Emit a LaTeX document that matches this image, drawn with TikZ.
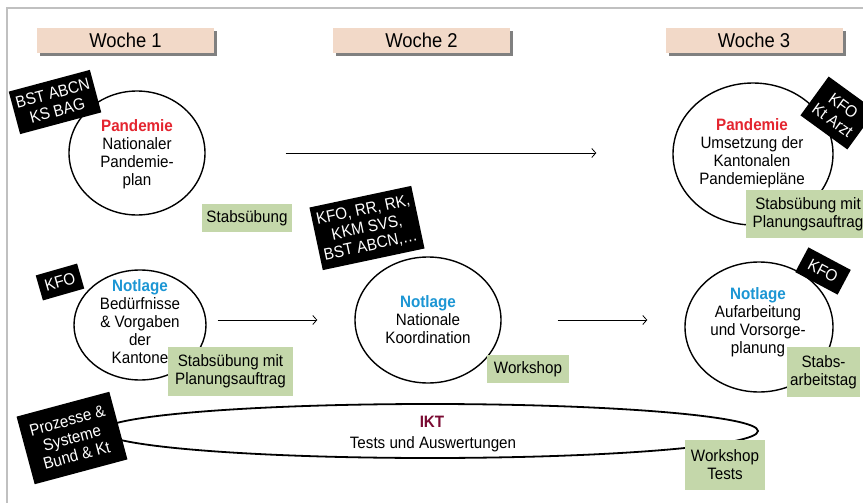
\documentclass[tikz,border=0pt]{standalone}
\usepackage{fontspec}
\setmainfont{Liberation Sans}[FakeStretch=0.92]
\usetikzlibrary{shapes.geometric,shadows,calc,arrows.meta}
\definecolor{peach}{RGB}{242,217,200}
\definecolor{sgreen}{RGB}{196,215,170}
\definecolor{pred}{RGB}{228,37,47}
\definecolor{nblue}{RGB}{28,150,212}
\definecolor{iktred}{RGB}{122,10,50}
\definecolor{framegray}{RGB}{192,192,192}
\begin{document}
\begin{tikzpicture}[x=1pt,y=-1pt,
 txt/.style={font=\fontsize{16.5}{18}\selectfont, align=center, inner sep=0pt},
 week/.style={fill=peach, minimum width=177pt, minimum height=25pt, inner sep=0pt,
   font=\fontsize{20}{22}\selectfont,
   drop shadow={shadow xshift=3pt,shadow yshift=-3pt,fill=black!50,opacity=1}},
 circ/.style={ellipse, draw, line width=1.4pt, fill=white, inner sep=0pt},
 gbox/.style={fill=sgreen, txt},
 bbox/.style={fill=black, text=white, txt},
 arr/.style={-{Straight Barb[length=4pt,width=9pt]}, line width=0.8pt},
]
\useasboundingbox (0,0) rectangle (863,503);
\fill[white] (0,0) rectangle (863,503);
\draw[framegray, line width=2pt] (7,503) -- (7,8) -- (863,8);

% week headers
\node[week] (W1) at (125.5,40.5) {Woche 1};
\node[week] (W2) at (421.5,40.5) {Woche 2};
\node[week] (W3) at (754,40.5) {Woche 3};

% IKT ellipse
\node[circ, minimum width=656pt, minimum height=54pt, line width=1.8pt] (I) at (430,431) {};
\node[txt, text=iktred, font=\fontsize{16.5}{18}\selectfont\bfseries] (It) at (432,422) {IKT};
\node[txt] (Is) at (433,444) {Tests und Auswertungen};

% circles
\node[circ, minimum width=136pt, minimum height=124pt] (P1) at (137,153) {};
\node[txt] (P1t) at (137,154) {\textcolor{pred}{\textbf{Pandemie}}\\Nationaler\\Pandemie-\\plan};
\node[circ, minimum width=160pt, minimum height=142pt] (P3) at (753,154) {};
\node[txt] (P3t) at (752,153) {\textcolor{pred}{\textbf{Pandemie}}\\Umsetzung der\\Kantonalen\\Pandemiepläne};
\node[circ, minimum width=132pt, minimum height=110pt] (N1) at (140,325) {};
\node[txt] (N1t) at (140,322) {\textcolor{nblue}{\textbf{Notlage}}\\Bedürfnisse\\\& Vorgaben\\der\\Kantone};
\node[circ, minimum width=146pt, minimum height=126pt] (N2) at (428,320) {};
\node[txt] (N2t) at (428,320) {\textcolor{nblue}{\textbf{Notlage}}\\Nationale\\Koordination};
\node[circ, minimum width=148pt, minimum height=130pt] (N3) at (759,327) {};
\node[txt] (N3t) at (758,322) {\textcolor{nblue}{\textbf{Notlage}}\\Aufarbeitung\\und Vorsorge-\\planung};

% arrows
\draw[arr, shorten <=80pt, shorten >=76pt] (P1.east) -- (P1.east -| P3.west);
\draw[arr, shorten <=11pt, shorten >=37pt] (N2.west -| N1.east) -- (N2.west);
\draw[arr, shorten <=56pt, shorten >=37pt] (N2.east) -- (N2.east -| N3.west);

% green boxes
\node[gbox, minimum width=90pt, minimum height=28pt] (G1) at (247,218) {Stabsübung};
\node[gbox, minimum width=124pt, minimum height=48pt] (G2) at (808,214) {Stabsübung mit\\Planungsauftrag};
\node[gbox, minimum width=125pt, minimum height=49pt] (G3) at (230.5,371.5) {Stabsübung mit\\Planungsauftrag};
\node[gbox, minimum width=82pt, minimum height=28pt] (G4) at (528,369) {Workshop};
\node[gbox, minimum width=73pt, minimum height=50pt] (G5) at (823.5,372) {Stabs-\\arbeitstag};
\node[gbox, minimum width=80pt, minimum height=50pt] (G6) at (725,465) {Workshop\\Tests};

% black boxes
\node[bbox, rotate=15, minimum width=84pt, minimum height=44pt] (B1) at (55,102) {BST ABCN\\KS BAG};
\node[bbox, rotate=-36, minimum width=58pt, minimum height=48pt] (B2) at (838,113) {KFO\\Kt Arzt};
\node[bbox, rotate=12, minimum width=104pt, minimum height=64pt] (B3) at (367,228) {KFO, RR, RK,\\KKM SVS,\\BST ABCN,\ldots};
\node[bbox, rotate=16, minimum width=43pt, minimum height=26pt] (B4) at (60,282) {KFO};
\node[bbox, rotate=15, minimum width=96pt, minimum height=70pt] (B5) at (72,438) {Prozesse \&\\Systeme\\Bund \& Kt};
\node[bbox, rotate=-28, minimum width=48pt, minimum height=28pt] (B6) at (823,271) {KFO};
\end{tikzpicture}
\end{document}
